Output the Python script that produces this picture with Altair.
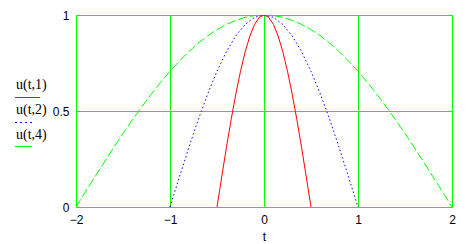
import altair as alt
import pandas as pd

# t values and readings
t_green = [round(-2 + 0.1 * i, 2) for i in range(41)]
u_green = [0.0, 0.079, 0.156, 0.233, 0.309, 0.383, 0.454, 0.522, 0.588, 0.649,
           0.707, 0.760, 0.809, 0.853, 0.891, 0.924, 0.951, 0.972, 0.988, 0.997,
           1.0,
           0.997, 0.988, 0.972, 0.951, 0.924, 0.891, 0.853, 0.809, 0.760, 0.707,
           0.649, 0.588, 0.522, 0.454, 0.383, 0.309, 0.233, 0.156, 0.079, 0.0]
t_blue = [round(-1 + 0.1 * i, 2) for i in range(21)]
u_blue = [0.0, 0.156, 0.309, 0.454, 0.588, 0.707, 0.809, 0.891, 0.951, 0.988, 1.0,
          0.988, 0.951, 0.891, 0.809, 0.707, 0.588, 0.454, 0.309, 0.156, 0.0]
t_red = [round(-0.5 + 0.05 * i, 3) for i in range(21)]
u_red = [0.0, 0.156, 0.309, 0.454, 0.588, 0.707, 0.809, 0.891, 0.951, 0.988, 1.0,
         0.988, 0.951, 0.891, 0.809, 0.707, 0.588, 0.454, 0.309, 0.156, 0.0]

legend_labels = ["u(t,1)", "u(t,2)", "u(t,4)"]
x_ticks = [-2, -1, 0, 1, 2]
y_ticks = [0, 0.5, 1]

GREEN = "#00ff00"
SANS = "Liberation Sans"
SERIF = "Liberation Serif"

xs = alt.Scale(domain=[-2, 2], nice=False, zero=False)
ys = alt.Scale(domain=[0, 1], nice=False)

xaxis = alt.Axis(values=x_ticks, gridColor=GREEN, gridOpacity=1, gridWidth=1,
                 ticks=False, domain=False, labelPadding=7, labelFont=SANS,
                 labelFontSize=12, labelColor="black", title="t", titleFont=SANS,
                 titleFontSize=12, titleFontWeight="normal", titleColor="black",
                 titlePadding=6, labelFlush=False, format="~g")
yaxis = alt.Axis(values=y_ticks, gridColor=GREEN, gridOpacity=1, gridWidth=1,
                 ticks=False, domain=False, labelPadding=7, labelFont=SANS,
                 labelFontSize=12, labelColor="black", title=None, labelFlush=False,
                 format="~g")

def curve(t, u, color, dash=None):
    df = pd.DataFrame({"t": t, "u": u})
    kw = dict(color=color, strokeWidth=1, clip=True)
    if dash:
        kw["strokeDash"] = dash
    return alt.Chart(df).mark_line(**kw).encode(
        x=alt.X("t:Q", scale=xs, axis=xaxis),
        y=alt.Y("u:Q", scale=ys, axis=yaxis),
    )

g = curve(t_green, u_green, GREEN, [9, 3])
b = curve(t_blue, u_blue, "#0000ff", [1.5, 2.5])
r = curve(t_red, u_red, "#ff0000")

one = pd.DataFrame({"k": [0]})

def leg_text(label, y):
    return alt.Chart(one).mark_text(text=label, align="left", baseline="middle",
                                    font=SERIF, fontSize=14, color="black").encode(
        x=alt.value(-60), y=alt.value(y))

def leg_rule(color, x2, y, dash=None):
    kw = dict(color=color, strokeWidth=1)
    if dash:
        kw["strokeDash"] = dash
    return alt.Chart(one).mark_rule(**kw).encode(
        x=alt.value(-61), x2=alt.value(x2), y=alt.value(y))

legend = [
    leg_text(legend_labels[0], 70), leg_rule("#ff0000", -36, 82.5),
    leg_text(legend_labels[1], 95), leg_rule("#0000ff", -41, 107.5, [2, 3]),
    leg_text(legend_labels[2], 120), leg_rule(GREEN, -44, 131.5),
]

chart = alt.layer(g, b, r, *legend).properties(
    width=376, height=192,
    autosize=alt.AutoSizeParams(type="none"),
    padding={"left": 76, "top": 15, "right": 20, "bottom": 37},
).configure_view(stroke="black", strokeWidth=1).configure(background="white")

chart.save("out.html", embed_options={"renderer": "svg", "actions": False})
